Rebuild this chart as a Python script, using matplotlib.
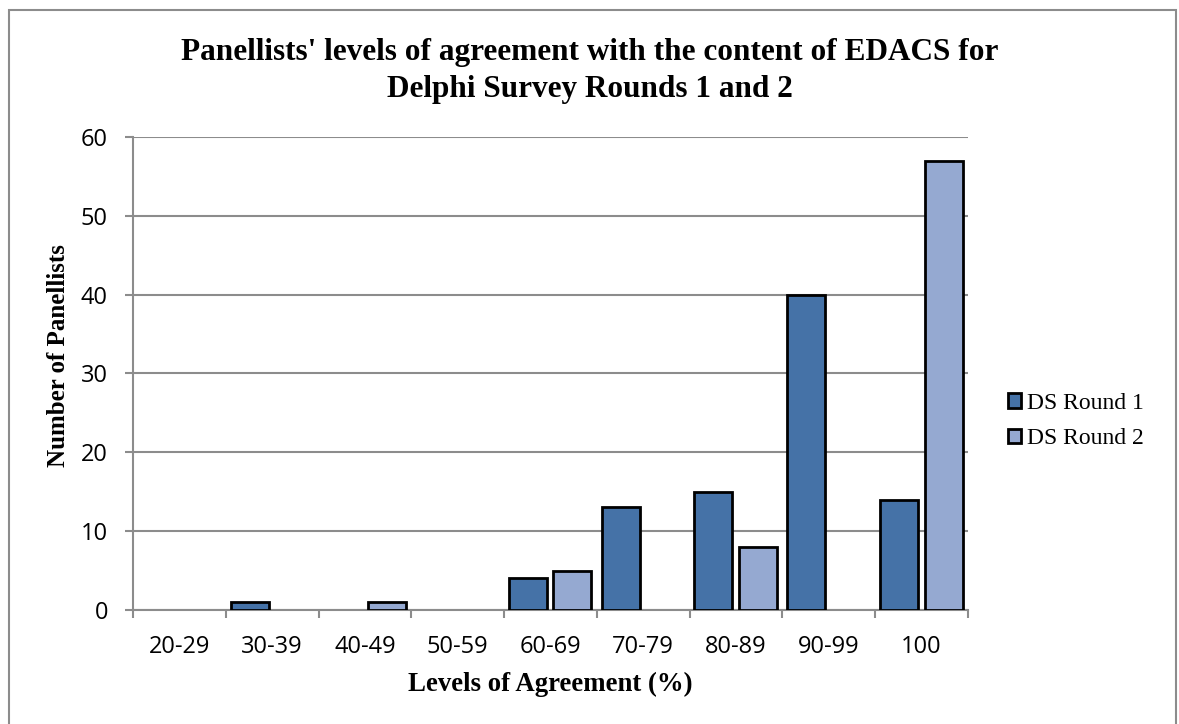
import matplotlib.pyplot as plt
import numpy as np
from matplotlib.patches import Rectangle

categories = ["20-29", "30-39", "40-49", "50-59", "60-69", "70-79", "80-89", "90-99", "100"]
round1 = [0, 1, 0, 0, 4, 13, 15, 40, 14]
round2 = [0, 0, 1, 0, 5, 0, 8, 0, 57]

COL_R1 = "#4572A7"
COL_R2 = "#95A9D1"
GREY = "#8c8c8c"
SERIF = "Liberation Serif"
SANS = "Open Sans"

fig = plt.figure(figsize=(11.79, 7.24), dpi=100)
ax = fig.add_axes([0.1128, 0.1575, 0.7082, 0.6533])

x = np.arange(len(categories))
w = 0.41
for vals, off, col, lab in [(round1, -0.243, COL_R1, "DS Round 1"),
                            (round2, 0.237, COL_R2, "DS Round 2")]:
    vals = np.asarray(vals)
    keep = vals > 0  # empty bins draw nothing
    ax.bar(x[keep] + off, vals[keep], w, color=col, edgecolor="black",
           linewidth=2, label=lab, zorder=3)

ax.set_xlim(-0.5, len(categories) - 0.5)
ax.set_ylim(0, 60)
ax.set_yticks(range(0, 61, 10))
ax.yaxis.grid(True, color=GREY, linewidth=1.5, zorder=0)
ax.set_axisbelow(True)

# category labels centred, tick marks on the category boundaries
ax.set_xticks(x)
ax.set_xticklabels(categories, fontfamily=SANS, fontsize=17)
ax.set_xticks(np.arange(-0.5, len(categories)), minor=True)
ax.tick_params(axis="x", which="major", length=0, pad=18)
ax.tick_params(axis="x", which="minor", length=6, width=1.5, color=GREY)
ax.tick_params(axis="y", length=6, width=1.5, color=GREY, pad=12)
for lab in ax.get_yticklabels():
    lab.set_fontfamily(SANS)
    lab.set_fontsize(17)

for side in ("top", "right"):
    ax.spines[side].set_visible(False)
for side in ("left", "bottom"):
    ax.spines[side].set_color(GREY)
    ax.spines[side].set_linewidth(1.5)

ax.set_xlabel("Levels of Agreement (%)", fontfamily=SERIF, fontweight="bold",
              fontsize=19.3, va="center")
ax.xaxis.set_label_coords(0.5, -0.1564)
ax.set_ylabel("Number of Panellists", fontfamily=SERIF, fontweight="bold",
              fontsize=18, va="center")
ax.yaxis.set_label_coords(-0.0898, 0.537)

fig.text(0.5, 1 - 60 / 724, "Panellists' levels of agreement with the content of EDACS for",
         ha="center", va="baseline", fontfamily=SERIF, fontweight="bold", fontsize=22.5)
fig.text(0.5, 1 - 97 / 724, "Delphi Survey Rounds 1 and 2",
         ha="center", va="baseline", fontfamily=SERIF, fontweight="bold", fontsize=22.5)

fig.legend(loc="center left", bbox_to_anchor=(0.855, 0.4185), frameon=False,
           borderpad=0, borderaxespad=0, prop={"family": SERIF, "size": 17},
           handlelength=0.55, handleheight=0.55, handletextpad=0.25, labelspacing=0.6)

# outer chart border
fig.patches.append(Rectangle((0.0076, -0.01), 0.9899, 0.9962, transform=fig.transFigure,
                             fill=False, edgecolor=GREY, linewidth=1.5))

fig.savefig("out.png", dpi=100)
